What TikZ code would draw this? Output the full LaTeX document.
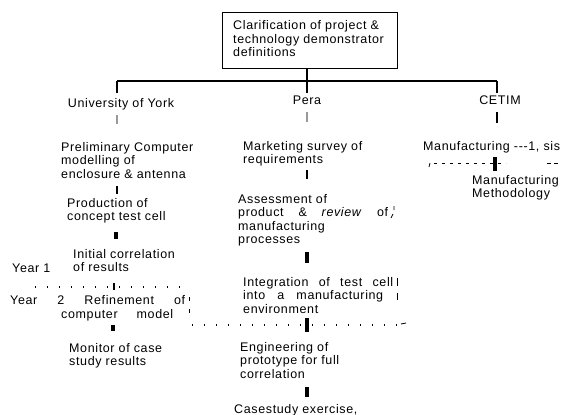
\documentclass[tikz,border=0pt]{standalone}
\usepackage{fontspec}
\setmainfont{Liberation Sans}[LetterSpace=5]
\newcommand\dgfont{\fontsize{12.5}{13.5}\selectfont}
\begin{document}
\begin{tikzpicture}[x=1pt,y=-1pt,
  txt/.style={inner sep=0pt, anchor=base west, align=left, font=\dgfont},
  ctxt/.style={inner sep=0pt, anchor=base, font=\dgfont},
  boxst/.style={draw, line width=0.9pt, minimum width=175pt, minimum height=56pt, inner sep=0pt},
  link/.style={line width=1.7pt},
  heavy/.style={line width=2.6pt},
  bar/.style={line width=3.5pt},
  tick/.style={line width=1.2pt},
  faint/.style={line width=1.1pt, draw=black!40},
  dots/.style={line width=1.4pt, dash pattern=on 1.4pt off 10.6pt},
  dashes/.style={line width=1pt, dash pattern=on 3pt off 5pt},
  junk/.style={line width=0.8pt}]
\useasboundingbox (0,0) rectangle (573,415);

% top box
\node[boxst] (top) at (309.5,40) {};
\node[txt] (toptext) at (233,56.5) {Clarification of project \&\\technology demonstrator\\definitions};

% tree connectors
\coordinate (hl) at (117,81);
\coordinate (hr) at (497,81);
\coordinate (hm) at (307,81);
\coordinate (dl) at (117,93);
\coordinate (dm) at (307,93);
\coordinate (dr) at (497,93);
\draw[link] (hl) -- (hr);
\draw[link] (hl) -- (dl);
\draw[link] (top.south -| hm) -- (dm);
\draw[heavy] (hr) -- (dr);

% column heads
\node[ctxt] (york) at (121,107) {University of York};
\node[ctxt] (pera) at (307,104) {Pera};
\node[ctxt] (cetim) at (500,104) {CETIM};

% ---------- York column ----------
\coordinate (y1a) at (117,115); \coordinate (y1b) at (117,124);
\draw[faint] (y1a) -- (y1b);
\node[txt] (prelim) at (61,178) {Preliminary Computer\\modelling of\\enclosure \& antenna};
\coordinate (y2a) at (117,186); \coordinate (y2b) at (117,194);
\draw[tick] (y2a) -- (y2b);
\node[txt] (prod) at (67,220.5) {Production of\\concept test cell};
\coordinate (y3a) at (116,232); \coordinate (y3b) at (116,239);
\draw[bar] (y3a) -- (y3b);
\node[txt] (init) at (73,271.5) {Initial correlation\\of results};
\node[txt] (year1) at (12,272) {Year 1};
\coordinate (d1a) at (35,287); \coordinate (d1b) at (186,287);
\draw[dots] (d1a) -- (d1b);
\coordinate (y4a) at (114,283); \coordinate (y4b) at (114,290);
\draw[tick] (y4a) -- (y4b);
\node[txt] (year2) at (10,304) {\makebox[175pt][s]{Year 2 Refinement of}};
\node[txt] (model) at (61,318) {\makebox[112pt][s]{computer model}};
\coordinate (j1a) at (189,297); \coordinate (j1b) at (189,301);
\coordinate (j2a) at (189,309); \coordinate (j2b) at (189,313);
\draw[junk] (j1a) -- (j1b) (j2a) -- (j2b);
\coordinate (y5a) at (113,325); \coordinate (y5b) at (113,331);
\draw[bar] (y5a) -- (y5b);
\node[txt] (monitor) at (69,365.5) {Monitor of case\\study results};

% ---------- Pera column ----------
\coordinate (p1a) at (307,112); \coordinate (p1b) at (307,122);
\draw[faint] (p1a) -- (p1b);
\node[txt] (market) at (243,163.5) {Marketing survey of\\requirements};
\coordinate (p2a) at (307,170); \coordinate (p2b) at (307,179);
\draw[link] (p2a) -- (p2b);
\node[txt] (assess) at (238,243.5) {Assessment of\\\makebox[150pt][s]{product \& \textit{review} of}\\manufacturing\\processes};
\coordinate (j3a) at (394,206); \coordinate (j3b) at (394,210);
\coordinate (j4a) at (393,214); \coordinate (j4b) at (391,218);
\draw[junk] (j3a) -- (j3b) (j4a) -- (j4b);
\coordinate (p3a) at (307,252); \coordinate (p3b) at (307,263);
\draw[bar] (p3a) -- (p3b);
\node[txt] (integ) at (243,313) {\makebox[150pt][s]{Integration of test cell}\\\makebox[140pt][s]{into a manufacturing}\\environment};
\coordinate (j5a) at (397,278); \coordinate (j5b) at (397,286);
\coordinate (j6a) at (397,293); \coordinate (j6b) at (397,300);
\draw[junk] (j5a) -- (j5b) (j6a) -- (j6b);
\coordinate (d2a) at (192,325); \coordinate (d2b) at (398,325);
\draw[dots] (d2a) -- (d2b);
\coordinate (j7a) at (401,324); \coordinate (j7b) at (406,323);
\draw[junk] (j7a) -- (j7b);
\coordinate (p4a) at (307,318); \coordinate (p4b) at (307,332);
\draw[bar] (p4a) -- (p4b);
\node[txt] (engin) at (240,378) {Engineering of\\prototype for full\\correlation};
\coordinate (p5a) at (307,387); \coordinate (p5b) at (307,397);
\draw[bar] (p5a) -- (p5b);
\node[txt] (case) at (234,413) {Casestudy exercise,};

% ---------- CETIM column ----------
\coordinate (c1a) at (497,112); \coordinate (c1b) at (497,123);
\draw[tick] (c1a) -- (c1b);
\node[txt] (manan) at (423,150) {Manufacturing -{}-{}-1, sis};
\coordinate (c2a) at (434,163); \coordinate (c2b) at (506,163);
\draw[dashes] (c2a) -- (c2b);
\coordinate (c3a) at (547,163); \coordinate (c3b) at (558,163);
\draw[dashes, dash pattern=on 4pt off 3pt] (c3a) -- (c3b);
\coordinate (c4a) at (430,163); \coordinate (c4b) at (429,167);
\draw[junk] (c4a) -- (c4b);
\coordinate (c5a) at (495,157); \coordinate (c5b) at (495,171);
\draw[bar] (c5a) -- (c5b);
\node[txt] (manmeth) at (472,197.5) {Manufacturing\\Methodology};
\end{tikzpicture}
\end{document}
